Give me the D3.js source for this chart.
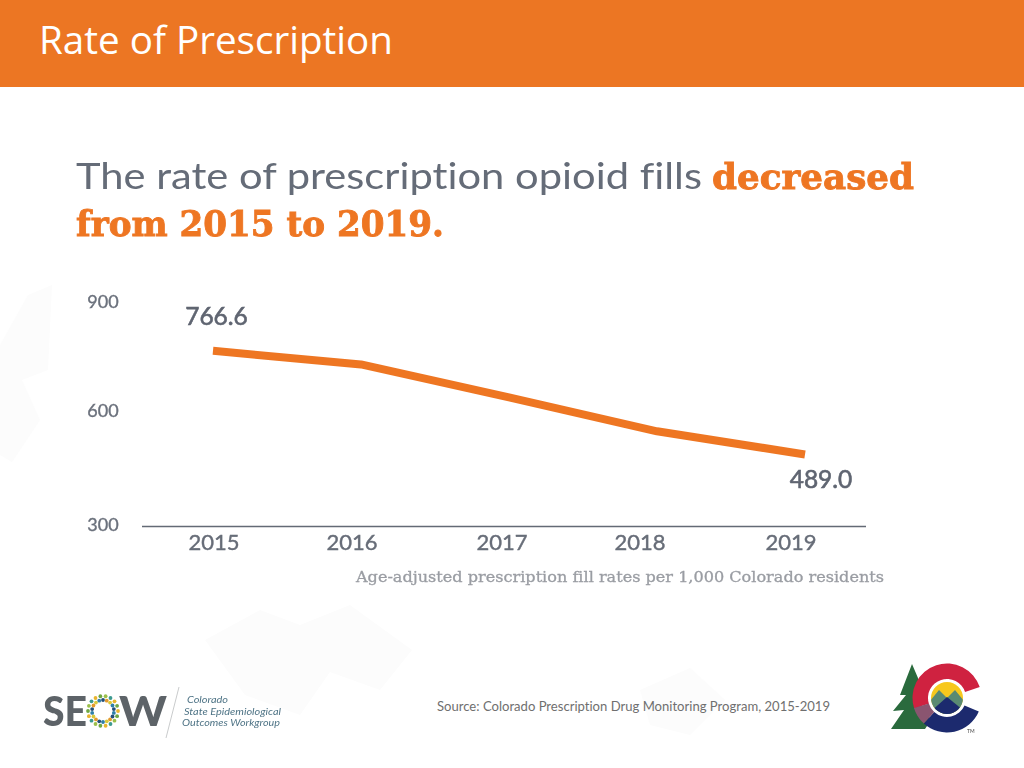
<!DOCTYPE html>
<html><head><meta charset="utf-8">
<script src="https://cdn.jsdelivr.net/npm/d3@7/dist/d3.min.js"></script>
<style>html,body{margin:0;padding:0;background:#fff;overflow:hidden}svg{display:block}text{font-variant-ligatures:none}</style>
</head><body><div id="chart"></div>
<script>
const years = [2015, 2016, 2017, 2018, 2019];
const rates = [766.6, 730, 642, 551, 489.0];
const yTicks = [300, 600, 900];
const slideTitle = "Rate of Prescription";
const headingPlain = "The rate of prescription opioid fills";
const headingBold1 = "decreased";
const headingBold2 = "from 2015 to 2019.";
const axisNote = "Age-adjusted prescription fill rates per 1,000 Colorado residents";
const sourceNote = "Source: Colorado Prescription Drug Monitoring Program, 2015-2019";

const svg = d3.select("#chart").append("svg").attr("width",1024).attr("height",768);
const defs = svg.append("defs");
defs.append("filter").attr("id","soft").append("feGaussianBlur").attr("stdDeviation",0.6);

// faint background watermark
const wm = svg.append("g").attr("fill","#fcfcfc");
wm.append("path").attr("d","M0 345 L28 295 L52 285 L48 370 L22 380 L40 420 L12 462 L0 455 Z");
wm.append("path").attr("d","M205 640 L260 610 L300 625 L350 605 L412 650 L380 690 L330 672 L300 715 L245 695 Z");
wm.append("path").attr("d","M640 690 L690 668 L725 700 L690 735 L650 725 Z");

svg.append("rect").attr("width",1024).attr("height",87).attr("fill","#ec7623");
svg.append("text").attr("x",39).attr("y",53.5).attr("font-family","Open Sans").attr("font-size",38)
  .attr("textLength",354).attr("lengthAdjust","spacingAndGlyphs").attr("fill","#fff").text(slideTitle);

const soft = svg.append("g").attr("filter","url(#soft)");
const heading = soft.append("g").attr("font-size",36);
heading.append("text").attr("x",76).attr("y",189).attr("font-family","Lato")
  .attr("textLength",626).attr("lengthAdjust","spacingAndGlyphs").attr("fill","#656c78").text(headingPlain);
heading.append("text").attr("x",712).attr("y",189).attr("font-family","DejaVu Serif").attr("font-weight","bold")
  .attr("textLength",202).attr("lengthAdjust","spacingAndGlyphs").attr("fill","#ee7624")
  .attr("stroke","#ee7624").attr("stroke-width",0.9).text(headingBold1);
heading.append("text").attr("x",76).attr("y",236).attr("font-family","DejaVu Serif").attr("font-weight","bold")
  .attr("textLength",368).attr("lengthAdjust","spacingAndGlyphs").attr("fill","#ee7624")
  .attr("stroke","#ee7624").attr("stroke-width",0.9).text(headingBold2);

// scales
const y = d3.scaleLinear().domain([300,900]).range([525,301]);
const yLabel = d3.scaleOrdinal().domain(yTicks).range([531,417,308]);
const xLine = d3.scaleLinear().domain([2015,2019]).range([213,805]);
const xLabel = d3.scaleOrdinal().domain(years).range([214,352,502,640,791]);

// baseline
soft.append("line").attr("x1",142).attr("x2",866).attr("y1",526.5).attr("y2",526.5)
  .attr("stroke","#646a74").attr("stroke-width",1.6);

// y tick labels
soft.append("g").selectAll("text").data(yTicks).join("text")
  .attr("x",103).attr("y",d=>yLabel(d)).attr("text-anchor","middle")
  .attr("font-family","Lato").attr("font-size",18).attr("fill","#6b717c")
  .attr("stroke","#6b717c").attr("stroke-width",0.35).text(d=>d);

// x tick labels
soft.append("g").selectAll("text").data(years).join("text")
  .attr("x",d=>xLabel(d)).attr("y",550).attr("text-anchor","middle")
  .attr("font-family","Lato").attr("font-size",22).attr("fill","#676d78")
  .attr("stroke","#676d78").attr("stroke-width",0.4).text(d=>d);

// line
const line = d3.line().x((d,i)=>xLine(years[i])).y(d=>y(d));
soft.append("path").datum(rates).attr("d",line).attr("fill","none")
  .attr("stroke","#ee7624").attr("stroke-width",8).attr("stroke-linejoin","round");

// endpoint value labels
const valueLabel = (val,x,yy) => soft.append("text").attr("x",x).attr("y",yy).attr("text-anchor","middle")
  .attr("font-family","Lato").attr("font-size",24.5).attr("fill","#5f6571")
  .attr("stroke","#5f6571").attr("stroke-width",0.6).text(val.toFixed(1));
valueLabel(rates[0],216.5,325);
valueLabel(rates[4],821,488);

// axis note
soft.append("text").attr("x",356).attr("y",582).attr("font-family","DejaVu Serif").attr("font-size",15)
  .attr("textLength",528).attr("lengthAdjust","spacingAndGlyphs").attr("fill","#9a9da3")
  .attr("stroke","#9a9da3").attr("stroke-width",0.3).text(axisNote);

// source
svg.append("text").attr("x",437).attr("y",711).attr("font-family","Lato").attr("font-size",13)
  .attr("textLength",393).attr("lengthAdjust","spacingAndGlyphs").attr("fill","#6f6f6f").text(sourceNote);

// SEOW logo
const seow = svg.append("g").attr("filter","url(#soft)");
seow.append("text").attr("x",43).attr("y",725.5).attr("font-family","Lato").attr("font-weight","900")
  .attr("font-size",41).attr("fill","#5d6367").attr("textLength",44).attr("lengthAdjust","spacingAndGlyphs").text("SE");
seow.append("text").attr("x",119).attr("y",725.5).attr("font-family","Lato").attr("font-weight","900")
  .attr("font-size",41).attr("fill","#5d6367").attr("textLength",48).attr("lengthAdjust","spacingAndGlyphs").text("W");
const ringColors = ["#e8b52f","#2f7fa8","#6fa843","#24507a","#9bbf4a","#e39a2d","#3c9a8f","#d9c93a"];
const ringDots = d3.range(36);
seow.append("g").selectAll("circle").data(ringDots).join("circle")
  .attr("cx",i=>103+(i%2?11:15)*Math.cos(i/36*2*Math.PI)).attr("cy",i=>711+(i%2?11:15)*Math.sin(i/36*2*Math.PI))
  .attr("r",1.9).attr("fill",i=>ringColors[i%8]);
seow.append("line").attr("x1",179).attr("y1",687).attr("x2",166).attr("y2",738).attr("stroke","#c9cbcc").attr("stroke-width",1);
const seowText = seow.append("g").attr("font-family","Lato").attr("font-style","italic").attr("font-size",9.5).attr("fill","#4f7486");
seowText.append("text").attr("x",187).attr("y",703).attr("textLength",41).attr("lengthAdjust","spacingAndGlyphs").text("Colorado");
seowText.append("text").attr("x",184).attr("y",714.5).attr("textLength",97).attr("lengthAdjust","spacingAndGlyphs").text("State Epidemiological");
seowText.append("text").attr("x",182).attr("y",726).attr("textLength",98).attr("lengthAdjust","spacingAndGlyphs").text("Outcomes Workgroup");

// Colorado logo
const co = svg.append("g").attr("filter","url(#soft)");
co.append("path").attr("d","M912 664 L921 685 L917 685 L926 703 L920 703 L931 720 L925 729 L891 729 L904 710 L893 711 L906 695 L900 695 Z").attr("fill","#2a6a3c");
const cx=947, cy=698, R=34.5, r=19;
const arc = d3.arc().innerRadius(r).outerRadius(R);
co.append("path").attr("transform",`translate(${cx},${cy})`)
  .attr("d",arc({startAngle:-1.88,endAngle:1.25})).attr("fill","#cf2040");
co.append("path").attr("transform",`translate(${cx},${cy})`)
  .attr("d",arc({startAngle:1.97,endAngle:3.88})).attr("fill","#1b2a6e");
co.append("path").attr("transform",`translate(${cx},${cy})`)
  .attr("d",arc({startAngle:3.88,endAngle:4.42})).attr("fill","#8a5570");
co.append("circle").attr("cx",cx).attr("cy",cy).attr("r",18).attr("fill","#fff");
co.append("circle").attr("cx",cx).attr("cy",cy).attr("r",16).attr("fill","#f7c81e");
const clip = defs.append("clipPath").attr("id","sun");
clip.append("circle").attr("cx",cx).attr("cy",cy).attr("r",16);
const mt = co.append("g").attr("clip-path","url(#sun)");
mt.append("path").attr("d","M926 706 L939 690 L947 698 L955 690 L968 706 L968 720 L926 720 Z").attr("fill","#5a8a72");
mt.append("path").attr("d","M928 714 L947 697 L968 714 L968 720 L928 720 Z").attr("fill","#1b2a6e");
co.append("text").attr("x",967).attr("y",733).attr("font-family","Lato").attr("font-size",5).attr("fill","#444").text("TM");
</script></body></html>
